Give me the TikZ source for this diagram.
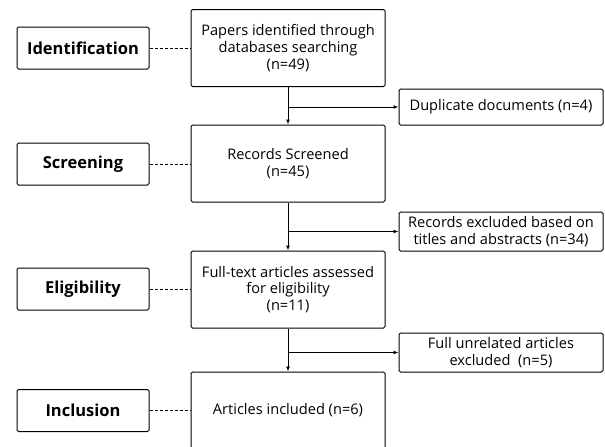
\documentclass[tikz,border=0pt]{standalone}
\usepackage{fontspec}
\setmainfont{Open Sans}
\usetikzlibrary{arrows.meta}
\begin{document}
\begin{tikzpicture}[x=1pt,y=-1pt,
  box/.style={draw, line width=1pt, rounded corners=1.5pt, inner sep=0pt, align=center},
  stagebox/.style={box, minimum width=132pt, minimum height=42pt,
    font=\fontsize{16.5}{18}\selectfont\bfseries},
  mainbox/.style={box, minimum width=194pt, minimum height=77pt,
    font=\fontsize{14.6}{16.7}\selectfont},
  sidebox/.style={box, minimum width=204pt, font=\fontsize{14.6}{16.7}\selectfont},
  flow/.style={line width=1pt, -{Latex[length=5pt,width=4pt]}},
  link/.style={line width=0.9pt, dash pattern=on 3pt off 2pt}]
\clip (0,0) rectangle (605,447);
% stage labels
\node[stagebox] (s1) at (83,48) {Identification};
\node[stagebox] (s2) at (83,164) {Screening};
\node[stagebox] (s3) at (83,289) {Eligibility};
\node[stagebox] (s4) at (83,410.5) {Inclusion};
% main column
\node[mainbox] (m1) at (288,48) {Papers identified through\\databases searching\\(n=49)};
\node[mainbox] (m2) at (288,163.5) {Records Screened\\(n=45)};
\node[mainbox] (m3) at (288,289.5) {Full-text articles assessed\\for eligibility\\(n=11)};
\node[mainbox] (m4) at (288,410.5) {Articles included (n=6)};
% side boxes
\node[sidebox, minimum height=36pt] (r1) at (501,107) {Duplicate documents (n=4)};
\node[sidebox, minimum height=39pt] (r2) at (501,231.5) {Records excluded based on\\titles and abstracts (n=34)};
\node[sidebox, minimum height=39pt] (r3) at (501,352.5) {Full unrelated articles\\excluded~ (n=5)};
% dashed links
\foreach \i in {1,2,3,4}{\draw[link] (s\i.east) -- (s\i.east -| m\i.west);}
% flow arrows
\draw[flow] (m1.south) -- (m2.north);
\draw[flow] (m2.south) -- (m3.north);
\draw[flow] (m3.south) -- (m4.north);
\draw[flow] (m1.south |- r1.west) -- (r1.west);
\draw[flow] (m2.south |- r2.west) -- (r2.west);
\draw[flow] (m3.south |- r3.west) -- (r3.west);
\end{tikzpicture}
\end{document}
